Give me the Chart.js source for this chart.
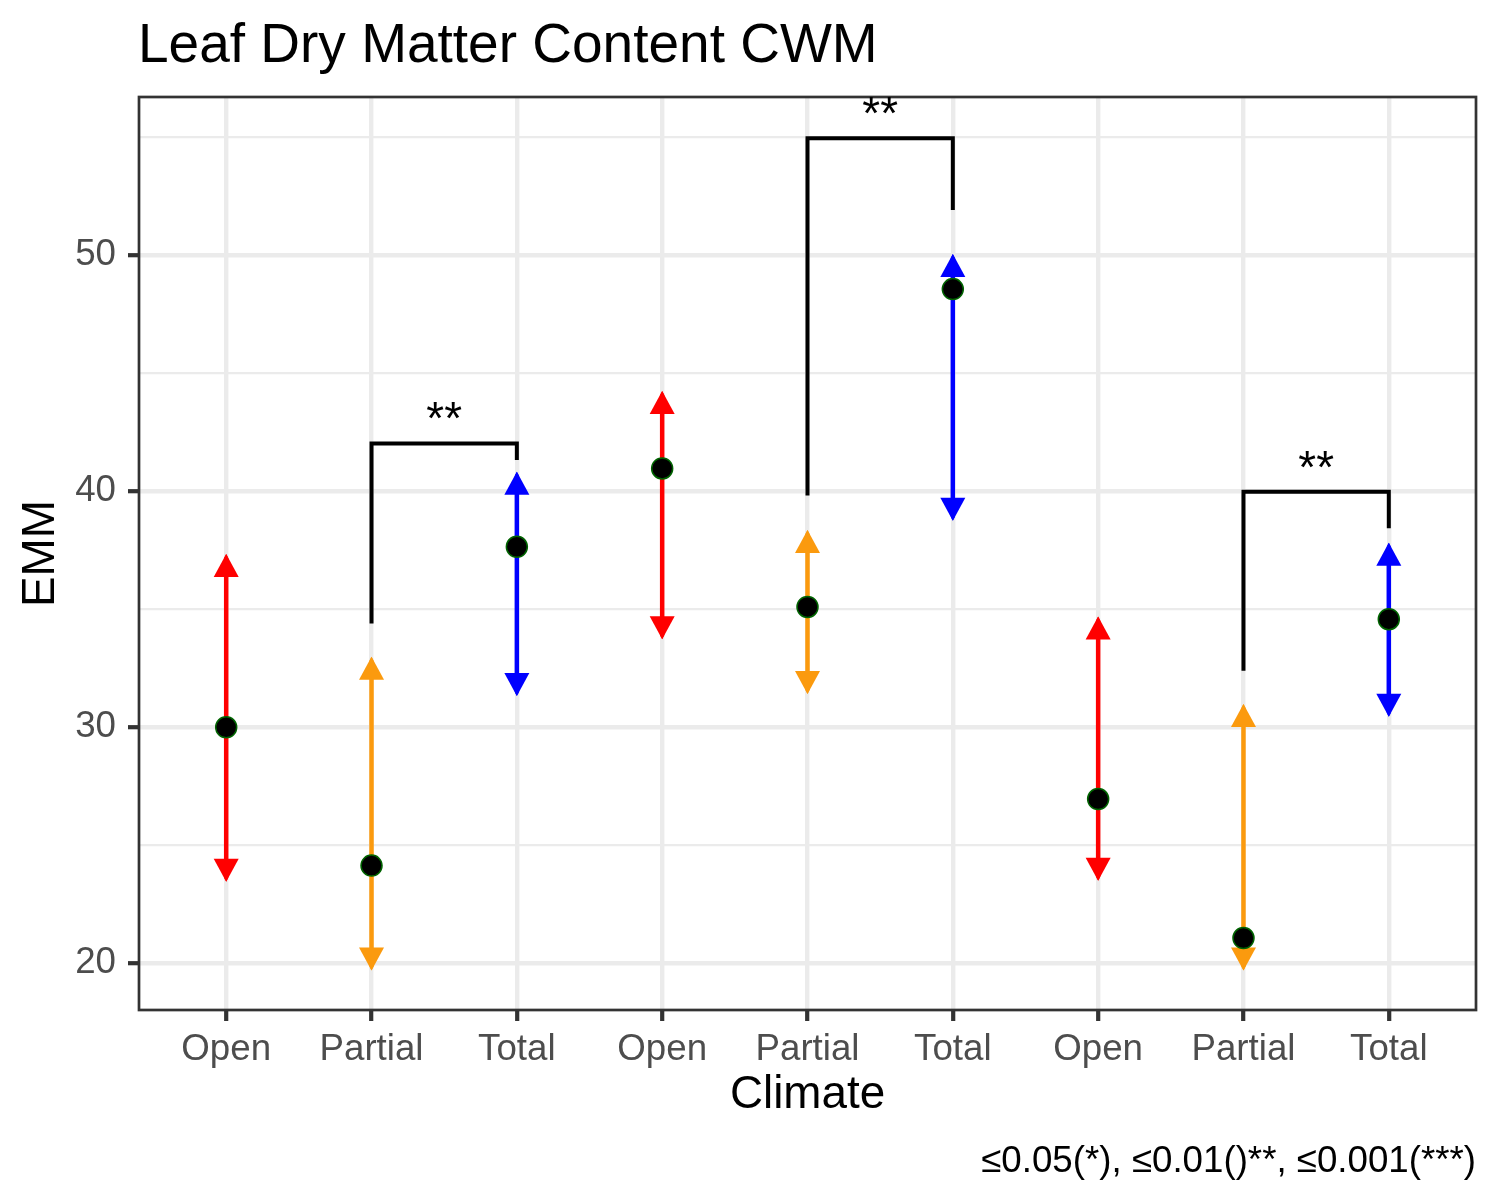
<!DOCTYPE html>
<html><head><meta charset="utf-8">
<script src="https://cdn.jsdelivr.net/npm/chart.js@4/dist/chart.umd.min.js"></script>
<style>html,body{margin:0;padding:0;background:#fff}#wrap{width:1500px;height:1200px;position:relative}</style>
</head><body><div id="wrap"><canvas id="c" width="1500" height="1200"></canvas></div>
<script>
// ---- data ----
const categories = ['Open','Partial','Total','Open','Partial','Total','Open','Partial','Total'];
const emm   = [30.00, 24.14, 37.65, 40.97, 35.10, 48.57, 26.96, 21.07, 34.58];
const lower = [23.46, 19.69, 31.33, 33.73, 31.41, 38.75, 23.50, 19.69, 30.45];
const upper = [37.34, 32.99, 40.83, 44.25, 38.36, 50.06, 34.69, 30.99, 37.82];
const barColors = ['#FF0000','#FB9A0E','#0000FF','#FF0000','#FB9A0E','#0000FF','#FF0000','#FB9A0E','#0000FF'];
const yTicks = [20, 25, 30, 35, 40, 45, 50, 55];
const yLabelTicks = [20, 30, 40, 50];
const bracketFrom = [2, 5, 8];
const bracketTo = [3, 6, 9];
const bracketTop = [42.03, 54.96, 39.98];
const bracketFromEnd = [34.40, 39.82, 32.40];
const bracketToEnd = [41.33, 51.92, 38.43];
const bracketLabels = ['**', '**', '**'];

const FONT = "'Liberation Sans', Arial, Helvetica, sans-serif";
const AL = 23, AH = 12.5; // arrowhead length / half-width (px)

const datasets = [];
datasets.push({
  label: 'EMM',
  data: emm.map((v, i) => ({x: i + 1, y: v})),
  showLine: false,
  pointRadius: 10.5,
  pointHoverRadius: 10.5,
  backgroundColor: '#000000',
  borderColor: '#006400',
  borderWidth: 1.5,
  order: 0
});
emm.forEach((v, i) => {
  datasets.push({
    label: 'ci' + i,
    data: [{x: i + 1, y: lower[i]}, {x: i + 1, y: upper[i]}],
    showLine: true,
    borderColor: barColors[i],
    borderWidth: 4.5,
    pointRadius: 0,
    pointHoverRadius: 0,
    order: 1
  });
});
bracketFrom.forEach((a, k) => {
  const b = bracketTo[k];
  datasets.push({
    label: 'br' + k,
    data: [{x: a, y: bracketFromEnd[k]}, {x: a, y: bracketTop[k]}, {x: b, y: bracketTop[k]}, {x: b, y: bracketToEnd[k]}],
    showLine: true,
    borderColor: '#000000',
    borderWidth: 4,
    borderJoinStyle: 'miter',
    pointRadius: 0,
    pointHoverRadius: 0,
    order: 1
  });
});

const arrowPlugin = {
  id: 'arrows',
  beforeDatasetDraw(chart, args) {
    const ctx = chart.ctx, xs = chart.scales.x, ys = chart.scales.y;
    if (args.index >= 1 && args.index <= emm.length) {
      const i = args.index - 1;
      const px = xs.getPixelForValue(i + 1);
      const pu = ys.getPixelForValue(upper[i]);
      const pl = ys.getPixelForValue(lower[i]);
      ctx.save();
      ctx.beginPath();
      ctx.moveTo(px, pu); ctx.lineTo(px + AH, pu + AL); ctx.lineTo(px + AH, pl - AL);
      ctx.lineTo(px, pl); ctx.lineTo(px - AH, pl - AL); ctx.lineTo(px - AH, pu + AL);
      ctx.closePath();
      ctx.clip();
      return;
    }
    if (args.index !== 0) return;
    ctx.save();
    emm.forEach((v, i) => {
      const px = xs.getPixelForValue(i + 1);
      const pu = ys.getPixelForValue(upper[i]);
      const pl = ys.getPixelForValue(lower[i]);
      ctx.fillStyle = barColors[i];
      ctx.beginPath();
      ctx.moveTo(px, pu); ctx.lineTo(px - AH, pu + AL); ctx.lineTo(px + AH, pu + AL); ctx.closePath(); ctx.fill();
      ctx.beginPath();
      ctx.moveTo(px, pl); ctx.lineTo(px - AH, pl - AL); ctx.lineTo(px + AH, pl - AL); ctx.closePath(); ctx.fill();
    });
    ctx.restore();
  },
  afterDatasetDraw(chart, args) {
    if (args.index >= 1 && args.index <= emm.length) chart.ctx.restore();
  }
};

const textPlugin = {
  id: 'texts',
  afterDraw(chart) {
    const ctx = chart.ctx, a = chart.chartArea, xs = chart.scales.x, ys = chart.scales.y;
    ctx.save();
    ctx.strokeStyle = '#333333';
    ctx.lineWidth = 2.7;
    ctx.strokeRect(a.left, a.top, a.right - a.left, a.bottom - a.top);
    ctx.fillStyle = '#000000';
    ctx.font = '45.8px ' + FONT;
    ctx.textAlign = 'center';
    ctx.textBaseline = 'alphabetic';
    bracketFrom.forEach((f, k) => {
      const mx = (xs.getPixelForValue(f) + xs.getPixelForValue(bracketTo[k])) / 2;
      const py = ys.getPixelForValue(bracketTop[k]) - 9;
      ctx.fillText(bracketLabels[k], mx, py);
    });
    ctx.textAlign = 'left';
    ctx.font = '55px ' + FONT;
    ctx.fillText('Leaf Dry Matter Content CWM', 138, 62);
    ctx.textAlign = 'center';
    ctx.font = '45.8px ' + FONT;
    ctx.fillText('Climate', (a.left + a.right) / 2, 1108);
    ctx.save();
    ctx.translate(54, (a.top + a.bottom) / 2);
    ctx.rotate(-Math.PI / 2);
    ctx.fillText('EMM', 0, 0);
    ctx.restore();
    ctx.textAlign = 'right';
    ctx.font = '36.7px ' + FONT;
    ctx.fillText('\u22640.05(*), \u22640.01()**, \u22640.001(***)', a.right, 1172);
    ctx.restore();
  }
};

new Chart(document.getElementById('c'), {
  type: 'scatter',
  data: { datasets },
  plugins: [arrowPlugin, textPlugin],
  options: {
    responsive: false,
    devicePixelRatio: 1,
    animation: false,
    events: [],
    layout: { padding: { left: 0, top: 97, right: 24, bottom: 0 } },
    plugins: { legend: { display: false }, tooltip: { enabled: false }, title: { display: false } },
    scales: {
      x: {
        type: 'linear', min: 0.4, max: 9.6,
        afterBuildTicks: (s) => { s.ticks = categories.map((c, i) => ({ value: i + 1 })); },
        afterFit: (s) => { s.height = 190; },
        ticks: {
          autoSkip: false, maxRotation: 0, padding: 7,
          color: '#4D4D4D', font: { family: FONT, size: 36.7 },
          callback: (v) => categories[Math.round(v) - 1]
        },
        grid: { color: '#EBEBEB', lineWidth: 4.4, tickLength: 11, tickColor: '#333333', tickWidth: 4.2 },
        border: { display: false }
      },
      y: {
        type: 'linear', min: 18.02, max: 56.71,
        afterBuildTicks: (s) => { s.ticks = yTicks.map(v => ({ value: v })); },
        afterFit: (s) => { s.width = 139; },
        ticks: {
          autoSkip: false, padding: 12,
          color: '#4D4D4D', font: { family: FONT, size: 36.7 },
          callback: (v) => yLabelTicks.includes(v) ? String(v) : ''
        },
        grid: {
          color: '#EBEBEB',
          lineWidth: (c) => (c.tick && yLabelTicks.includes(c.tick.value)) ? 4.4 : 2.2,
          tickLength: 11,
          tickColor: (c) => (c.tick && yLabelTicks.includes(c.tick.value)) ? '#333333' : 'rgba(0,0,0,0)',
          tickWidth: 4.2
        },
        border: { display: false }
      }
    }
  }
});
</script>
</body></html>
